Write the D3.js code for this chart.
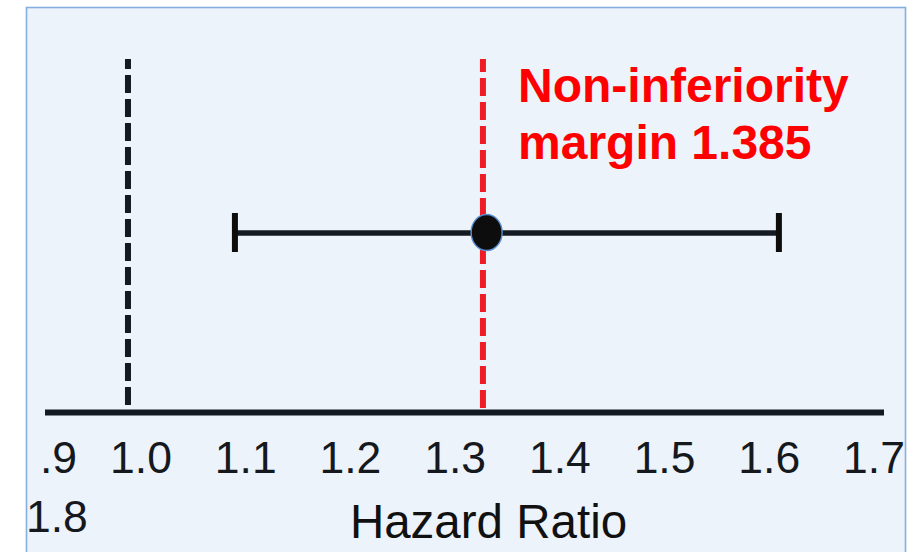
<!DOCTYPE html>
<html>
<head>
<meta charset="utf-8">
<script src="https://cdn.jsdelivr.net/npm/d3@7"></script>
<style>
  html, body { margin: 0; padding: 0; background: #ffffff; }
  svg { display: block; }
</style>
</head>
<body>
<svg id="chart" width="920" height="552"></svg>
<script>
// Hazard ratio estimate with its 95% confidence interval
const hazardRatio = [1.389];
const ciLower = [1.116];
const ciUpper = [1.706];

// Reference lines: no effect (1.0) and the non-inferiority margin
const referenceValues = [1.0, 1.385];
const marginValue = 1.385;

// Axis labels as printed under the axis
const tickLabels = [".9", "1.0", "1.1", "1.2", "1.3", "1.4", "1.5", "1.6", "1.7"];
const tickValues = [0.9, 1.0, 1.1, 1.2, 1.3, 1.4, 1.5, 1.6, 1.7];
const wrappedLabel = ["1.8"];
const axisTitle = "Hazard Ratio";
const marginLabel = ["Non-inferiority", "margin " + marginValue];

const W = 920, H = 552;
const FONT = "'Liberation Sans', Arial, Helvetica, sans-serif";
const INK = "#141a21";

const svg = d3.select("#chart");

// Panel
svg.append("rect")
  .attr("x", 26.5).attr("y", 7.5)
  .attr("width", 879).attr("height", 560)
  .attr("fill", "#edf3fa")
  .attr("stroke", "#86afdf")
  .attr("stroke-width", 1.6);

// Value scale for the marks
const x = d3.scaleLinear().domain([0.91, 1.82]).range([45, 884]);
const axisY = 412.5;
const rowY = 233;

// Baseline axis line
svg.append("line")
  .attr("x1", x.range()[0]).attr("x2", x.range()[1])
  .attr("y1", axisY).attr("y2", axisY)
  .attr("stroke", INK).attr("stroke-width", 6);

// Dashed reference lines
const refColors = ["#141a21", "#ee1c25"];
const refOffsets = [8, 5];
svg.selectAll("line.ref")
  .data(referenceValues)
  .join("line")
  .attr("class", "ref")
  .attr("x1", d => x(d)).attr("x2", d => x(d))
  .attr("y1", 59).attr("y2", axisY - 3)
  .attr("stroke", (d, i) => refColors[i])
  .attr("stroke-width", 6)
  .attr("stroke-dasharray", "18,6")
  .attr("stroke-dashoffset", (d, i) => refOffsets[i]);

// Confidence interval whisker
const ci = hazardRatio.map((d, i) => ({ est: d, lo: ciLower[i], hi: ciUpper[i] }));
const g = svg.append("g");
g.selectAll("line.ci")
  .data(ci)
  .join("line")
  .attr("class", "ci")
  .attr("x1", d => x(d.lo)).attr("x2", d => x(d.hi))
  .attr("y1", rowY).attr("y2", rowY)
  .attr("stroke", INK).attr("stroke-width", 5.5);

g.selectAll("line.cap")
  .data(ci.flatMap(d => [d.lo, d.hi]))
  .join("line")
  .attr("class", "cap")
  .attr("x1", d => x(d)).attr("x2", d => x(d))
  .attr("y1", rowY - 20).attr("y2", rowY + 19)
  .attr("stroke", "#0d0d0d").attr("stroke-width", 6);

// Point estimate
g.selectAll("ellipse")
  .data(ci)
  .join("ellipse")
  .attr("cx", d => x(d.est)).attr("cy", rowY - 0.5)
  .attr("rx", 15.5).attr("ry", 18)
  .attr("fill", "#0d0d0d")
  .attr("stroke", "#5b8fd0").attr("stroke-width", 1.4);

// Margin annotation
svg.append("text")
  .attr("x", 518).attr("y", 102)
  .attr("font-family", FONT).attr("font-weight", "bold")
  .attr("font-size", 48).attr("fill", "#ff0000")
  .selectAll("tspan")
  .data(marginLabel)
  .join("tspan")
  .attr("x", 518)
  .attr("dy", (d, i) => i === 0 ? 0 : 56.5)
  .text(d => d);

// Tick labels: 1.0 to 1.7 spaced evenly, ".9" set just ahead of "1.0"
const labelX = d3.scaleLinear().domain([1.0, 1.7]).range([141, 874]);
const tickFont = 44.5;
const ticks = svg.append("g")
  .attr("font-family", FONT).attr("font-size", tickFont).attr("fill", "#15191e");

const tickData = tickLabels.map((t, i) => ({ label: t, value: tickValues[i] }));
const placed = ticks.selectAll("text.tick")
  .data(tickData.filter(d => d.value >= 1.0))
  .join("text")
  .attr("class", "tick")
  .attr("x", d => labelX(d.value))
  .attr("y", 473)
  .attr("text-anchor", "middle")
  .text(d => d.label);

// Lead label sits a word-gap before the first evenly spaced label
const firstNode = placed.nodes()[0];
const firstLeft = labelX(1.0) - firstNode.getComputedTextLength() / 2;
ticks.selectAll("text.lead")
  .data(tickData.filter(d => d.value < 1.0))
  .join("text")
  .attr("class", "lead")
  .attr("x", firstLeft - 33)
  .attr("y", 473)
  .attr("text-anchor", "end")
  .text(d => d.label);

// Label that wrapped onto the next line
ticks.selectAll("text.wrap")
  .data(wrappedLabel)
  .join("text")
  .attr("class", "wrap")
  .attr("x", 26)
  .attr("y", 532)
  .text(d => d);

// Axis title
svg.append("text")
  .attr("x", 488.5).attr("y", 538)
  .attr("text-anchor", "middle")
  .attr("font-family", FONT).attr("font-size", 47.5).attr("fill", "#111111")
  .text(axisTitle);
</script>
</body>
</html>
